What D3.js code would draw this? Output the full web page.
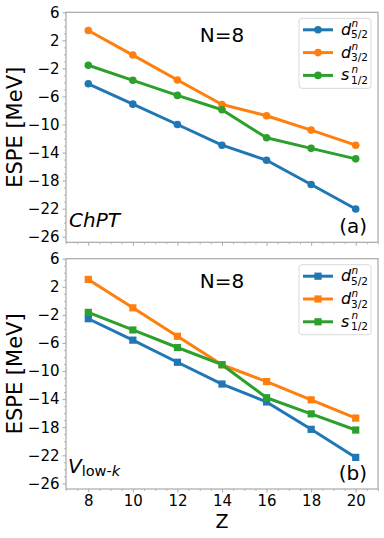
<!DOCTYPE html>
<html>
<head>
<meta charset="utf-8">
<script src="https://cdn.jsdelivr.net/npm/d3@7"></script>
<style>
  html, body { margin: 0; padding: 0; background: #fff; }
  svg { display: block; font-family: "DejaVu Sans", sans-serif; }
</style>
</head>
<body>
<svg id="chart" width="384" height="538"></svg>
<script>
// ---- data ----
const zValues = [8, 10, 12, 14, 16, 18, 20];
const xTicks = [8, 10, 12, 14, 16, 18, 20];
const yTicks = [6, 2, -2, -6, -10, -14, -18, -22, -26];

const chptD52 = [-4.2, -7.1, -10.0, -12.95, -15.1, -18.55, -22.05];
const chptD32 = [3.4, -0.1, -3.65, -7.15, -8.75, -10.8, -12.95];
const chptS12 = [-1.55, -3.7, -5.85, -7.9, -11.9, -13.4, -14.9];

const vlkD52 = [-2.55, -5.6, -8.75, -11.85, -14.4, -18.3, -22.3];
const vlkD32 = [3.05, -1.0, -5.05, -9.1, -11.5, -14.1, -16.7];
const vlkS12 = [-1.65, -4.15, -6.65, -9.1, -13.8, -16.1, -18.4];

const seriesNames = [
  {base: "d", sub: "5/2"},
  {base: "d", sub: "3/2"},
  {base: "s", sub: "1/2"}
];
const colors = ["#1f77b4", "#ff7f0e", "#2ca02c"];

// ---- layout ----
const svg = d3.select("#chart");
const left = 66, right = 378;
const panels = [
  {top: 12.3, bottom: 242.3, data: [chptD52, chptD32, chptS12], marker: "circle", showX: false, tag: "(a)", label: "chpt"},
  {top: 258.7, bottom: 489, data: [vlkD52, vlkD32, vlkS12], marker: "square", showX: true, tag: "(b)", label: "vlk"}
];

const x = d3.scaleLinear().domain([7, 21]).range([left, right]);
const spineColor = "#a8a8a8";

panels.forEach(p => {
  const y = d3.scaleLinear().domain([-26.8, 6]).range([p.bottom, p.top]);
  const g = svg.append("g");

  // minor ticks
  const yMinor = d3.range(-26, 7, 1).filter(v => !yTicks.includes(v));
  const xMinor = d3.range(7, 21.01, 0.5).filter(v => !xTicks.includes(v));
  const ya = g.append("g").attr("transform", `translate(${left},0)`)
    .call(d3.axisLeft(y).tickValues(yMinor).tickSize(2).tickFormat(""));
  const xa = g.append("g").attr("transform", `translate(0,${p.bottom})`)
    .call(d3.axisBottom(x).tickValues(xMinor).tickSize(2).tickFormat(""));
  [ya, xa].forEach(a => { a.select(".domain").remove(); a.selectAll("line").attr("stroke", spineColor).attr("stroke-width", 0.8); });

  // major ticks
  const yAxis = g.append("g").attr("transform", `translate(${left},0)`)
    .call(d3.axisLeft(y).tickValues(yTicks).tickSize(3.5).tickPadding(3).tickFormat(d3.format("d")));
  const xAxis = g.append("g").attr("transform", `translate(0,${p.bottom})`)
    .call(d3.axisBottom(x).tickValues(xTicks).tickSize(3.5).tickPadding(3)
      .tickFormat(p.showX ? d3.format("d") : ""));
  [yAxis, xAxis].forEach(a => {
    a.select(".domain").remove();
    a.selectAll("line").attr("stroke", spineColor).attr("stroke-width", 1);
    a.selectAll("text").attr("font-size", 15).attr("fill", "#000").attr("font-family", "DejaVu Sans");
  });

  // frame
  g.append("rect").attr("x", left).attr("y", p.top)
    .attr("width", right - left).attr("height", p.bottom - p.top)
    .attr("fill", "none").attr("stroke", spineColor).attr("stroke-width", 1.2);

  // lines
  const line = d3.line().x((d, i) => x(zValues[i])).y(d => y(d));
  p.data.forEach((ser, si) => {
    g.append("path").datum(ser).attr("d", line)
      .attr("fill", "none").attr("stroke", colors[si]).attr("stroke-width", 3)
      .attr("stroke-linejoin", "round").attr("stroke-linecap", "butt");
    if (p.marker === "circle") {
      g.selectAll(null).data(ser).enter().append("circle")
        .attr("cx", (d, i) => x(zValues[i])).attr("cy", d => y(d)).attr("r", 3.8)
        .attr("fill", colors[si]);
    } else {
      g.selectAll(null).data(ser).enter().append("rect")
        .attr("x", (d, i) => x(zValues[i]) - 3.6).attr("y", d => y(d) - 3.6)
        .attr("width", 7.2).attr("height", 7.2)
        .attr("fill", colors[si]);
    }
  });

  // N=8
  g.append("text").attr("x", 222).attr("y", p.top + 29.4)
    .attr("text-anchor", "middle").attr("font-size", 20).text("N=8");

  // panel tag
  g.append("text").attr("x", 367).attr("y", p.bottom - 9.5)
    .attr("text-anchor", "end").attr("font-size", 20).text(p.tag);

  // method label
  if (p.label === "chpt") {
    g.append("text").attr("x", 69).attr("y", p.bottom - 15.5)
      .attr("font-size", 20).attr("font-style", "italic").text("ChPT");
  } else {
    const t = g.append("text").attr("x", 68).attr("y", p.bottom - 16).attr("font-size", 20);
    t.append("tspan").attr("font-style", "italic").text("V");
    t.append("tspan").attr("font-size", 14.5).attr("dy", 3).text("low-");
    t.append("tspan").attr("font-size", 14.5).attr("font-style", "italic").text("k");
  }

  // y label
  const cy = (p.top + p.bottom) / 2;
  g.append("text").attr("transform", `translate(22,${cy}) rotate(-90)`)
    .attr("text-anchor", "middle").attr("font-size", 21).text("ESPE [MeV]");

  // legend
  const lx = 299, ly = p.top + 6, lw = 72, lh = 70;
  const leg = g.append("g");
  leg.append("rect").attr("x", lx).attr("y", ly).attr("width", lw).attr("height", lh)
    .attr("rx", 3).attr("fill", "#fff").attr("fill-opacity", 0.85)
    .attr("stroke", "#d9d9d9").attr("stroke-width", 1);
  seriesNames.forEach((s, i) => {
    const ry = ly + 11.5 + i * 22.8;
    leg.append("line").attr("x1", lx + 4).attr("x2", lx + 34).attr("y1", ry).attr("y2", ry)
      .attr("stroke", colors[i]).attr("stroke-width", 3);
    if (p.marker === "circle") {
      leg.append("circle").attr("cx", lx + 19).attr("cy", ry).attr("r", 3.8).attr("fill", colors[i]);
    } else {
      leg.append("rect").attr("x", lx + 19 - 3.6).attr("y", ry - 3.6).attr("width", 7.2).attr("height", 7.2).attr("fill", colors[i]);
    }
    const tx = lx + 42;
    const t = leg.append("text").attr("x", tx).attr("y", ry + 5).attr("font-size", 16);
    t.append("tspan").attr("font-style", "italic").text(s.base);
    leg.append("text").attr("x", tx + 10.5).attr("y", ry - 2.5).attr("font-size", 10.5)
      .attr("font-style", "italic").text("n");
    leg.append("text").attr("x", tx + 10).attr("y", ry + 8.5).attr("font-size", 10.5).text(s.sub);
  });
});

// x label
svg.append("text").attr("x", 222).attr("y", 528).attr("text-anchor", "middle")
  .attr("font-size", 19).text("Z");
</script>
</body>
</html>
